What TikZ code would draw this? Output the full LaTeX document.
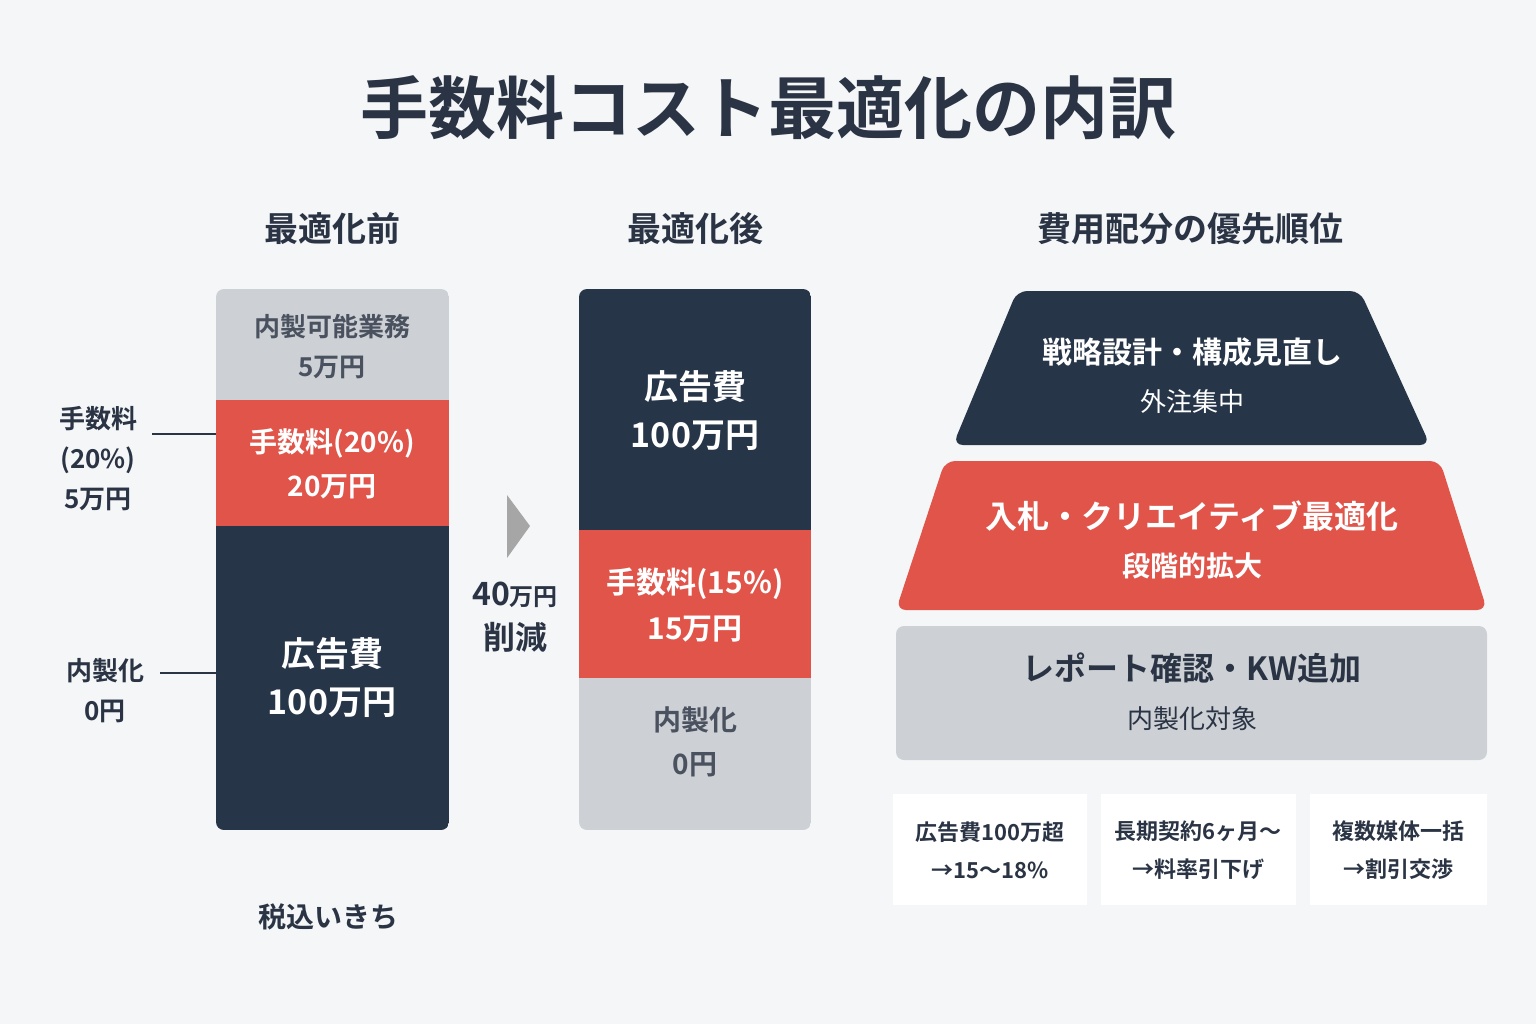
\documentclass[tikz,border=0pt]{standalone}
\usepackage{fontspec}
\setmainfont{Noto Sans CJK JP}[BoldFont={Noto Sans CJK JP Bold}]
\definecolor{navy}{HTML}{263548}
\definecolor{redc}{HTML}{E0544A}
\definecolor{greyc}{HTML}{CDD0D4}
\definecolor{bgc}{HTML}{F5F6F7}
\definecolor{txt}{HTML}{2A3444}
\begin{document}
\begin{tikzpicture}[x=0.5pt,y=-0.5pt,
  lt/.style={font=\bfseries\fontsize{15}{20}\selectfont,text=white,align=center},
  dt/.style={font=\bfseries\fontsize{15}{20}\selectfont,text=txt,align=center},
  gt/.style={font=\bfseries\fontsize{13}{20}\selectfont,text=txt!85,align=center},
  hd/.style={font=\bfseries\fontsize{17}{20}\selectfont,text=txt},
  sm/.style={font=\bfseries\fontsize{11}{19}\selectfont,text=txt,align=center}]
\fill[bgc] (0,0) rectangle (1536,1024);
\node[font=\bfseries\fontsize{34}{40}\selectfont,text=txt] (title) at (768,108) {手数料コスト最適化の内訳};
\node[hd] (h1) at (332,229) {最適化前};
\node[hd] (h2) at (695,229) {最適化後};
\node[hd] (h3) at (1190,229) {費用配分の優先順位};
% left bar
\begin{scope}
\clip[rounded corners=4] (216,289) rectangle (449,830);
\fill[greyc] (216,289) rectangle (449,400);
\fill[redc] (216,400) rectangle (449,526);
\fill[navy] (216,526) rectangle (449,830);
\end{scope}
\node[gt] (l1) at (332,347) {内製可能業務\\5万円};
\node[lt,font=\bfseries\fontsize{14}{22}\selectfont] (l2) at (332,464) {手数料(20\%)\\20万円};
\node[lt,font=\bfseries\fontsize{17}{24}\selectfont] (l3) at (332,678) {広告費\\100万円};
\node[dt,font=\bfseries\fontsize{13}{20}\selectfont] (a1) at (98,459) {手数料\\(20\%)\\5万円};
\node[dt,font=\bfseries\fontsize{13}{20}\selectfont] (a2) at (105,691) {内製化\\0円};
\coordinate (c1) at (216,434); \coordinate (c2) at (216,673);
\draw[txt,thick] (152,434) -- (c1);
\draw[txt,thick] (160,673) -- (c2);
% arrow
\fill[gray!70] (507,495) -- (530,526) -- (507,558) -- cycle;
\node[dt,font=\bfseries\fontsize{16}{22}\selectfont] (sv) at (515,617) {40{\fontsize{12}{12}\selectfont 万円}\\削減};
% middle bar
\begin{scope}
\clip[rounded corners=4] (579,289) rectangle (811,830);
\fill[navy] (579,289) rectangle (811,530);
\fill[redc] (579,530) rectangle (811,678);
\fill[greyc] (579,678) rectangle (811,830);
\end{scope}
\node[lt,font=\bfseries\fontsize{17}{24}\selectfont] (m1) at (695,411) {広告費\\100万円};
\node[lt,font=\bfseries\fontsize{15}{23}\selectfont] (m2) at (695,605) {手数料(15\%)\\15万円};
\node[gt,font=\bfseries\fontsize{14}{22}\selectfont] (m3) at (695,742) {内製化\\0円};
% pyramid
\fill[navy,rounded corners=5] (1017,291) -- (1360,291) -- (1430,445) -- (953,445) -- cycle;
\node[lt,font=\bfseries\fontsize{15}{24}\selectfont] (p1) at (1192,376) {戦略設計・構成見直し\\{\fontsize{13}{20}\selectfont\mdseries 外注集中}};
\fill[redc,rounded corners=5] (945,461) -- (1440,461) -- (1487,610) -- (896,610) -- cycle;
\node[lt,font=\bfseries\fontsize{16}{24}\selectfont] (p2) at (1192,540) {入札・クリエイティブ最適化\\{\fontsize{14}{20}\selectfont 段階的拡大}};
\fill[greyc,rounded corners=4] (896,626) rectangle (1487,760);
\node[dt,font=\bfseries\fontsize{16}{24}\selectfont] (p3) at (1192,692) {レポート確認・KW追加\\{\fontsize{13}{20}\selectfont\mdseries 内製化対象}};
% bottom boxes
\fill[white] (893,794) rectangle (1087,905);
\fill[white] (1101,794) rectangle (1296,905);
\fill[white] (1310,794) rectangle (1487,905);
\node[sm] (b1) at (990,850) {広告費100万超\\→15〜18\%};
\node[sm] (b2) at (1198,850) {長期契約6ヶ月〜\\→料率引下げ};
\node[sm] (b3) at (1398,850) {複数媒体一括\\→割引交渉};
\node[dt,font=\bfseries\fontsize{14}{20}\selectfont] (ft) at (328,917) {税込いきち};
\end{tikzpicture}
\end{document}
